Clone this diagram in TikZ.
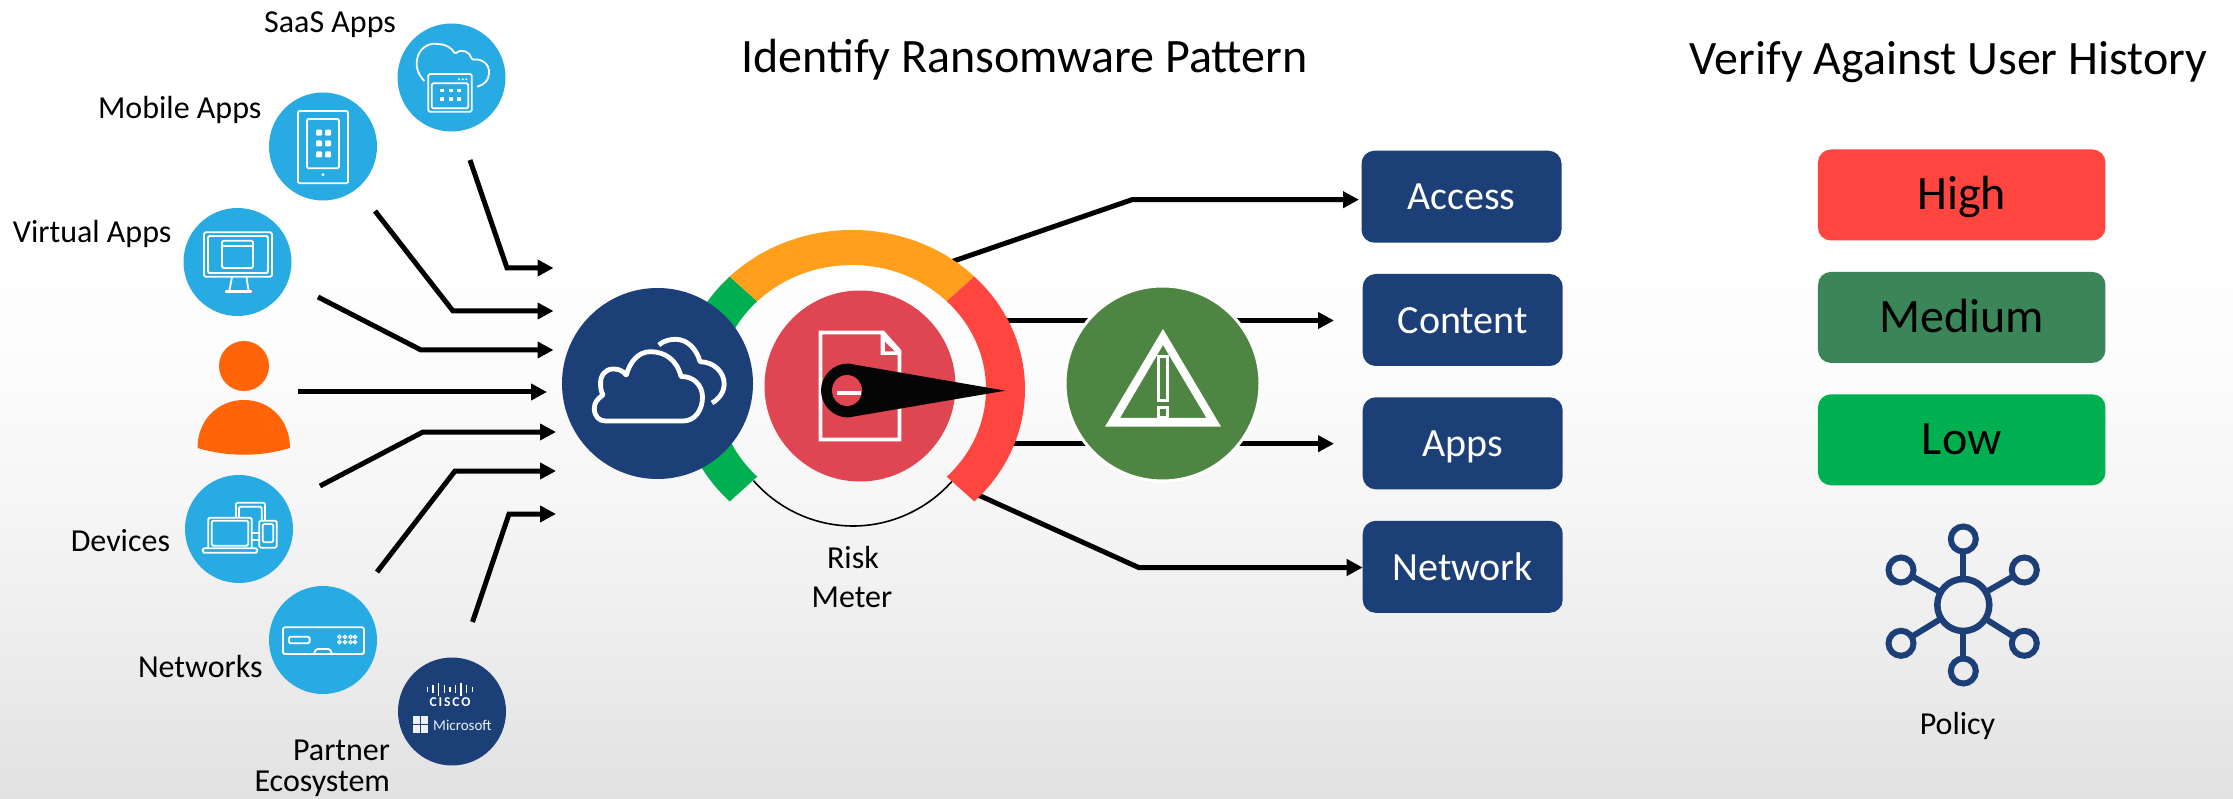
\documentclass[tikz,border=0pt]{standalone}
\usepackage{fontspec}
\setmainfont{Carlito}
\usetikzlibrary{arrows.meta}
\definecolor{skyb}{HTML}{27ABE2}
\definecolor{navy}{HTML}{1C3F77}
\definecolor{meterred}{HTML}{FF453F}
\definecolor{meterorange}{HTML}{FF9F1C}
\definecolor{metergreen}{HTML}{00B050}
\definecolor{midgreen}{HTML}{3B8658}
\definecolor{alertgreen}{HTML}{4F8542}
\definecolor{docred}{HTML}{E04552}
\definecolor{personorange}{HTML}{FF6409}
\newcommand\ringseg[3]{\fill[#1] ({852+173*cos(#2)},{389+159*sin(#2)}) arc[start angle=#2,end angle=#3,x radius=173,y radius=159] -- ({852+134*cos(#3)},{389+124*sin(#3)}) arc[start angle=#3,end angle=#2,x radius=134,y radius=124] -- cycle;}
\newcommand\lowtxt[1]{\raisebox{-13.3pt}[0pt][0pt]{#1}}
\newcommand\lowertxt[1]{\raisebox{-14.8pt}[0pt][0pt]{#1}}
\tikzset{
  x=1pt,y=-1pt,
  lbl/.style={font=\fontsize{32}{36}\selectfont,inner sep=0pt,outer sep=0pt,anchor=base east,text=black},
  ttl/.style={font=\fontsize{48}{52}\selectfont,inner sep=0pt,outer sep=0pt,anchor=base,text=black},
  srcdisc/.style={circle,fill=skyb,minimum size=108pt,inner sep=0pt,outer sep=0pt},
  hubdisc/.style={circle,minimum size=191pt,inner sep=0pt,outer sep=0pt},
  navybox/.style={rectangle,rounded corners=13pt,fill=navy,text=white,minimum width=200pt,minimum height=92pt,inner sep=0pt,outer sep=0pt,font=\fontsize{40}{44}\selectfont},
  riskbox/.style={rectangle,rounded corners=13pt,text=black,minimum width=287.5pt,minimum height=91pt,inner sep=0pt,outer sep=0pt,font=\fontsize{48}{52}\selectfont},
  flow/.style={draw=black,line width=5pt,-{Triangle[length=16pt,width=16pt]},line join=miter},
  icon/.style={draw=white,line width=1.8pt,fill=none,rounded corners=1.5pt},
  policyline/.style={draw=navy,line width=6pt},
  smallhub/.style={circle,draw=navy,line width=6pt,minimum size=25pt,inner sep=0pt,outer sep=0pt},
}
\begin{document}
\begin{tikzpicture}
\useasboundingbox (0,0) rectangle (2233,799);
% background
\shade[top color=white,bottom color=white] (0,0) rectangle (2233,200);
\shade[top color=white,bottom color=black!1] (0,199.5) rectangle (2233,350);
\shade[top color=black!1,bottom color=black!3.5] (0,349.5) rectangle (2233,500);
\shade[top color=black!3.5,bottom color=black!7] (0,499.5) rectangle (2233,640);
\shade[top color=black!7,bottom color=black!11.5] (0,639.5) rectangle (2233,799);

% titles
\node[ttl] (title1) at (1024.5,72.5) {Identify Ransomware Pattern};
\node[ttl] (title2) at (1948.5,75) {Verify Against User History};

% source discs
\node[srcdisc] (saas) at (451.5,77.5) {};
\node[srcdisc] (mobile) at (323,146.5) {};
\node[srcdisc] (virtual) at (237.5,262) {};
\node[srcdisc] (devices) at (239,529) {};
\node[srcdisc] (networks) at (323,640) {};
\node[srcdisc,fill=navy] (partner) at (452,711.5) {};

% person
\node[circle,fill=personorange,minimum size=50pt,inner sep=0pt] (head) at (244,366) {};
\fill[personorange] (197.5,448) .. controls (197.5,420) and (218,400) .. (244,400) .. controls (270,400) and (290,420) .. (290,448) .. controls (260,457) and (228,457) .. (197.5,448) -- cycle;
\coordinate (body) at (244,428);

% source labels
\node[lbl] (lsaas) at (396,32.5) {SaaS Apps};
\node[lbl] (lmobile) at (261.5,118.5) {Mobile Apps};
\node[lbl] (lvirtual) at (171.5,243) {Virtual Apps};
\node[lbl] (ldevices) at (170,551) {Devices};
\node[lbl] (lnetworks) at (262.5,677) {Networks};
\node[lbl] (lpartner) at (390,760) {Partner};
\node[lbl] (lecosystem) at (390,791) {Ecosystem};

% SaaS icon
\begin{scope}[icon]
\draw (424.3,81) .. controls (418,74) and (416,68) .. (417,60) .. controls (419,49) and (428,43) .. (437,44) .. controls (445,44) and (452,48) .. (455,54) .. controls (462,48) and (470,52) .. (472,60) .. controls (482,58) and (489,65) .. (489,72) .. controls (489,80) and (484,85) .. (477.3,86.7);
\draw (428.3,74) rectangle (471.7,111.7);
\draw (431.7,83.3) rectangle (468.3,108.3);
\end{scope}
\foreach \xx in {441.7,450.7,459} \foreach \yy in {90.7,99} {\fill[white] (\xx-1.8,\yy-1.8) rectangle (\xx+1.8,\yy+1.8);}
\foreach \xx in {459,462.7,466.3} {\fill[white] (\xx,79.3) circle[radius=1.2];}

% Mobile icon
\begin{scope}[icon]
\draw (298,111) rectangle (348,183.3);
\draw (307,119) rectangle (339,168.3);
\end{scope}
\fill[white] (323,174.7) circle[radius=1.6];
\foreach \xx in {319,328} \foreach \yy in {132.7,143.3,154.3} {\fill[white,rounded corners=1pt] (\xx-3,\yy-3) rectangle (\xx+3,\yy+3);}

% Virtual icon
\begin{scope}[icon]
\draw (204,232.3) rectangle (272,276.7);
\draw (208,236) rectangle (268,273);
\draw (222,240.7) rectangle (253,268);
\draw (222,246) -- (253,246);
\draw (232,277) -- (229.5,290);
\draw (246.4,277) -- (248.5,290);
\draw[line width=2.4pt,line cap=round] (226,291.5) -- (251,291.5);
\end{scope}

% Devices icon
\begin{scope}[icon]
\draw (236,517.7) -- (236,502.7) -- (265,502.7) -- (265,520.7);
\draw (239,517.7) -- (239,506.7) -- (261.7,506.7) -- (261.7,520.7);
\draw (208.3,548.3) -- (208.3,517.7) -- (251.7,517.7) -- (251.7,548.3);
\draw (211.7,520.7) rectangle (248.3,545.7);
\draw (202.7,548.3) rectangle (257.3,552.7);
\draw (259.3,520.7) rectangle (276.7,547.7);
\draw (262.7,524) rectangle (273.3,542.3);
\draw (251.7,533.3) -- (259.3,533.3);
\draw (251.7,540) -- (259.3,540);
\end{scope}

% Networks icon
\begin{scope}[icon]
\draw (283,627.3) rectangle (364,654);
\draw (289,636.7) rectangle (309.6,643.3);
\draw (314,654) -- (316,649) -- (330,649) -- (332,654);
\end{scope}
\foreach \xx in {339.5,345,350.5,355} \foreach \yy in {636.9,642.1} {\draw[white,line width=1.2pt] (\xx,\yy) circle[radius=1.7];}

% Partner icon
\foreach \xx/\hh in {427.5/2.5,433.1/4,438.7/6.5,444.3/4,449.9/2.5,455.5/4,461.1/6.5,466.7/4,472.3/2.5}
  {\draw[white,line width=1.4pt] (\xx,689-\hh) -- (\xx,689+\hh);}
\node[inner sep=0pt,text=white,font=\fontsize{13.5}{15}\selectfont\bfseries\addfontfeature{LetterSpace=14}] (cisco) at (450,702.5) {CISCO};
\fill[white!92!navy] (412.5,715.7) rectangle (419.7,723.7);
\fill[white!92!navy] (421,715.7) rectangle (428,723.7);
\fill[white!92!navy] (412.5,725) rectangle (419.7,733.3);
\fill[white!92!navy] (421,725) rectangle (428,733.3);
\node[inner sep=0pt,text=white!92!navy,anchor=base west,font=\fontsize{15}{16}\selectfont] (ms) at (433,730) {Microsoft};

% connectors out of the meter
\coordinate (oa) at (945,264); \coordinate (ba) at (1132,199.7);
\coordinate (oc) at (990,320.5);
\coordinate (op) at (990,443.7);
\coordinate (on) at (965,489); \coordinate (bn) at (1138.6,567.5);
\node[navybox] (access) at (1461.5,196.7) {\lowtxt{Access}};
\node[navybox] (content) at (1462.7,320) {\lowtxt{Content}};
\node[navybox] (apps) at (1462.7,443.3) {\lowtxt{Apps}};
\node[navybox] (network) at (1462.7,566.8) {\lowtxt{Network}};
\draw[flow,shorten >=2.5pt] (oa) -- (ba) -- (ba -| access.west);
\draw[flow,shorten >=28.7pt] (oc) -- (oc -| content.west);
\draw[flow,shorten >=28.7pt] (op) -- (op -| apps.west);
\draw[flow] (on) -- (bn) -- (bn -| network.west);

% risk meter
\draw[black,line width=1.6pt] ({853+134*cos(42)},{389+137*sin(42)}) arc[start angle=42,end angle=138,x radius=134,y radius=137];
\ringseg{metergreen}{135}{225}
\ringseg{meterorange}{-135}{-45}
\ringseg{meterred}{-45}{45}

% hub discs
\node[hubdisc,fill=navy] (hub) at (657.5,383.5) {};
\node[hubdisc,fill=docred] (doc) at (860,386) {};
\node[hubdisc,fill=alertgreen,draw=white,line width=3pt,minimum size=195pt] (alert) at (1162.5,383.5) {};

% hub cloud
\begin{scope}[draw=white,line width=4.8pt,line join=round,line cap=butt]
\draw (605,421) -- (683,421) .. controls (695,421) and (702.5,410) .. (702.5,397) .. controls (702.5,385) and (693,376) .. (681,376.5) .. controls (677,360) and (665,351.7) .. (650.5,351.7) .. controls (638,351.7) and (630,362) .. (626.3,375) .. controls (622,370) and (618,369) .. (613,369) .. controls (605,369) and (600,376) .. (600.6,384) .. controls (600.5,388) and (601,391) .. (603,395) .. controls (597,399) and (594.3,403) .. (594.3,408.5) .. controls (594.3,416) and (599,421) .. (605,421) -- cycle;
\draw (658.8,345) .. controls (664,340.5) and (670,339.3) .. (675.7,339.3) .. controls (688,339.3) and (697,350) .. (700,361.7) .. controls (714,362) and (724.2,372) .. (724.2,384) .. controls (724.2,392) and (719,399) .. (712,403);
\end{scope}

% document
\draw[white,line width=3.8pt,line join=miter] (820.5,332.5) -- (883,332.5) -- (899.5,351) -- (899.5,439.5) -- (820.5,439.5) -- cycle;
\fill[white] (880.5,331) -- (901,352) -- (901,355) -- (880.5,355) -- cycle;
\fill[docred] (885,342) -- (895,351.5) -- (885,351.5) -- cycle;

% needle
\fill[black!98] (848,363.5) -- (1005.3,390.7) -- (848,417.5) .. controls (833,417.5) and (821,405) .. (821,390.5) .. controls (821,376) and (833,363.5) .. (848,363.5) -- cycle;
\fill[docred] (847,390.5) ellipse[x radius=15,y radius=15.5];
\fill[white] (837,390.7) rectangle (861,395);

% alert triangle
\fill[white,even odd rule] (1163,329) -- (1221,426.7) -- (1105,426.7) -- cycle (1163,345) -- (1206.5,418) -- (1120,418) -- cycle;
\draw[white,line width=3pt] (1158,356.5) rectangle (1167.5,400.5);
\draw[white,line width=3pt] (1158,407.2) rectangle (1167.5,418);

% meter label
\node[lbl,anchor=base] (lrisk) at (853,568) {Risk};
\node[lbl,anchor=base] (lmeter) at (852,607.7) {Meter};

% incoming arrows
\coordinate (s1) at (470,160); \coordinate (b1) at (507,268);
\coordinate (s2) at (375,211); \coordinate (b2) at (453,311);
\coordinate (s3) at (318,297); \coordinate (b3) at (421,350);
\coordinate (s4) at (297.5,392);
\coordinate (s5) at (320,486); \coordinate (b5) at (423,432);
\coordinate (s6) at (377,572); \coordinate (b6) at (455,471);
\coordinate (s7) at (472.5,622); \coordinate (b7) at (509,514);
\draw[flow,shorten >=8.5pt] (s1) -- (b1) -- (b1 -| hub.west);
\draw[flow,shorten >=8.5pt] (s2) -- (b2) -- (b2 -| hub.west);
\draw[flow,shorten >=8.5pt] (s3) -- (b3) -- (b3 -| hub.west);
\draw[flow,shorten >=15pt] (s4) -- (s4 -| hub.west);
\draw[flow,shorten >=6pt] (s5) -- (b5) -- (b5 -| hub.west);
\draw[flow,shorten >=6pt] (s6) -- (b6) -- (b6 -| hub.west);
\draw[flow,shorten >=6pt] (s7) -- (b7) -- (b7 -| hub.west);

% risk boxes
\node[riskbox,fill=meterred] (high) at (1961.7,195) {\lowertxt{High}};
\node[riskbox,fill=midgreen] (medium) at (1961.7,317.4) {\lowertxt{Medium}};
\node[riskbox,fill=metergreen] (low) at (1961.7,439.8) {\lowertxt{Low}};

% policy
\node[circle,draw=navy,line width=6.5pt,minimum size=52pt,inner sep=0pt,outer sep=0pt] (pc) at (1963.3,605) {};
\node[smallhub] (p1) at (1963.3,539) {};
\node[smallhub] (p2) at (2024.3,570) {};
\node[smallhub] (p3) at (2024.3,643.3) {};
\node[smallhub] (p4) at (1963.3,671) {};
\node[smallhub] (p5) at (1901,643.3) {};
\node[smallhub] (p6) at (1901,570) {};
\foreach \n in {p1,p2,p3,p4,p5,p6} {\draw[policyline] (pc) -- (\n);}
\node[lbl,anchor=base] (lpolicy) at (1957.5,734) {Policy};
\end{tikzpicture}
\end{document}
